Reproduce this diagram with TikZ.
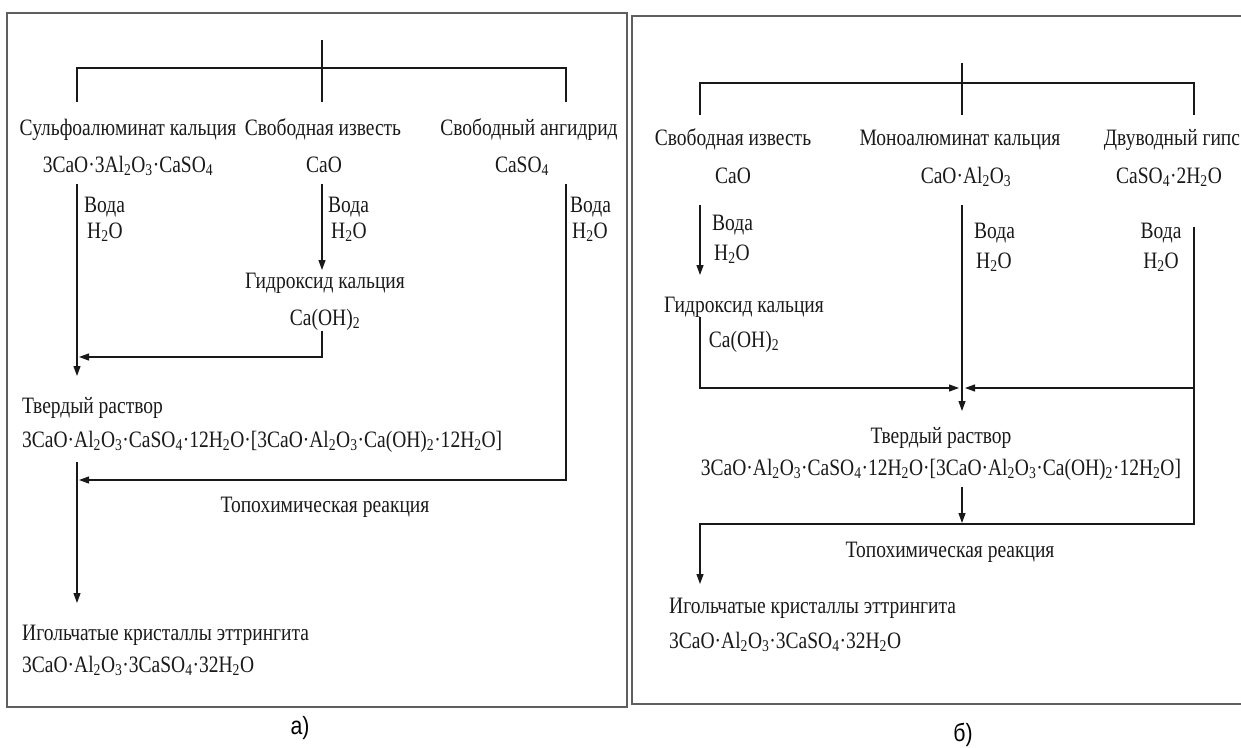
\documentclass[tikz,border=0pt]{standalone}
\usepackage{fontspec}
\setmainfont{Liberation Serif}[FakeStretch=0.83]
\newfontfamily\captfont{Liberation Sans}[FakeStretch=0.85]
\usetikzlibrary{positioning,calc,arrows.meta}
\definecolor{framegray}{RGB}{95,95,95}
\definecolor{linedark}{RGB}{25,25,25}
\newcommand{\chsub}[1]{\textsubscript{#1}}

\begin{document}
\begin{tikzpicture}[
  x=1pt, y=-1pt,
  lbl/.style={inner sep=0pt, font=\fontsize{23.5}{26}\selectfont,
              text height=15pt, text depth=5pt, text=black!90},
  lft/.style={lbl, anchor=west},
  rgt/.style={lbl, anchor=east},
  capt/.style={inner sep=0pt, font=\captfont\fontsize{25}{28}\selectfont},
  ln/.style={line width=1.2pt, linedark},
  arr/.style={ln, -{Triangle[length=10pt,width=7pt]}},
  frm/.style={line width=1.8pt, framegray},
]
\useasboundingbox (0,0) rectangle (1241,747);

% frames
\draw[frm] (7,13) rectangle (627,707);
\draw[frm] (1245,16) -- (632,16) -- (632,704) -- (1245,704);

% ---------- panel a ----------
\coordinate (a-top) at (322,40);
\coordinate (a-bar) at (322,68);
\coordinate (a-dl) at (77,102);
\coordinate (a-dm) at (322,102);
\coordinate (a-dr) at (566,102);
\draw[ln] (a-top) -- (a-dm);
\draw[ln] (a-dl) |- (a-bar) -| (a-dr);

\node[lbl] (a-sulf) at (128,130) {Сульфоалюминат кальция};
\node[lbl] (a-izv)  at (323,130) {Свободная известь};
\node[lbl] (a-ang)  at (529,130) {Свободный ангидрид};
\node[lbl] (a-sulff) at (128,167) {3CaO·3Al\chsub{2}O\chsub{3}·CaSO\chsub{4}};
\node[lbl] (a-izvf)  at (324,167) {CaO};
\node[lbl] (a-angf)  at (522,167) {CaSO\chsub{4}};

% water labels
\node[lft] (a-w1) at (84,207) {Вода};
\node[lft] (a-h1) at (87,233) {H\chsub{2}O};
\node[lft] (a-w2) at (328,207) {Вода};
\node[lft] (a-h2) at (331,233) {H\chsub{2}O};
\node[lft] (a-w3) at (570,207) {Вода};
\node[lft] (a-h3) at (572,233) {H\chsub{2}O};

\node[lbl] (a-hyd)  at (325,283) {Гидроксид кальция};
\node[lbl] (a-hydf) at (325,320) {Ca(OH)\chsub{2}};

\node[lft] (a-sol)  at (22,408) {Твердый раствор};
\node[lft] (a-solf) at (22,442) {3CaO·Al\chsub{2}O\chsub{3}·CaSO\chsub{4}·12H\chsub{2}O·[3CaO·Al\chsub{2}O\chsub{3}·Ca(OH)\chsub{2}·12H\chsub{2}O]};
\node[lbl] (a-topo) at (325,507) {Топохимическая реакция};
\node[lft] (a-ett)  at (22,635) {Игольчатые кристаллы эттрингита};
\node[lft] (a-ettf) at (22,667) {3CaO·Al\chsub{2}O\chsub{3}·3CaSO\chsub{4}·32H\chsub{2}O};

\coordinate (a-s1) at (77,184);
\coordinate (a-e1) at (77,376);
\coordinate (a-s2) at (322,184);
\coordinate (a-e2) at (322,270);
\coordinate (a-s3) at (322,331);
\coordinate (a-e3) at (79,357);
\coordinate (a-s4) at (566,184);
\coordinate (a-e4) at (79,480);
\coordinate (a-s5) at (77,462);
\coordinate (a-e5) at (77,603);
\draw[arr] (a-s1) -- (a-e1);
\draw[arr] (a-s2) -- (a-e2);
\draw[arr] (a-s3) |- (a-e3);
\draw[arr] (a-s4) |- (a-e4);
\draw[arr] (a-s5) -- (a-e5);

\node[capt] (a-cap) at (300,728) {а)};

% ---------- panel b ----------
\coordinate (b-top) at (962,63);
\coordinate (b-bar) at (962,83);
\coordinate (b-dl) at (700,115);
\coordinate (b-dm) at (962,115);
\coordinate (b-dr) at (1194,115);
\draw[ln] (b-top) -- (b-dm);
\draw[ln] (b-dl) |- (b-bar) -| (b-dr);

\node[lbl] (b-izv)  at (733,140) {Свободная известь};
\node[lbl] (b-mono) at (960,140) {Моноалюминат кальция};
\node[lbl] (b-gyp)  at (1172,140) {Двуводный гипс};
\node[lbl] (b-izvf)  at (733,178) {CaO};
\node[lbl] (b-monof) at (966,178) {CaO·Al\chsub{2}O\chsub{3}};
\node[lbl] (b-gypf)  at (1169,178) {CaSO\chsub{4}·2H\chsub{2}O};

\node[lft] (b-w1) at (712,225) {Вода};
\node[lft] (b-h1) at (714,255) {H\chsub{2}O};
\node[lft] (b-w2) at (974,233) {Вода};
\node[lft] (b-h2) at (976,263) {H\chsub{2}O};
\node[lbl] (b-w3) at (1161,233) {Вода};
\node[lbl] (b-h3) at (1161,263) {H\chsub{2}O};

\node[lbl] (b-hyd)  at (744,307) {Гидроксид кальция};
\node[lbl] (b-hydf) at (744,342) {Ca(OH)\chsub{2}};

\node[lbl] (b-sol)  at (941,438) {Твердый раствор};
\node[lbl] (b-solf) at (941,470) {3CaO·Al\chsub{2}O\chsub{3}·CaSO\chsub{4}·12H\chsub{2}O·[3CaO·Al\chsub{2}O\chsub{3}·Ca(OH)\chsub{2}·12H\chsub{2}O]};
\node[lbl] (b-topo) at (950,552) {Топохимическая реакция};
\node[lft] (b-ett)  at (669,608) {Игольчатые кристаллы эттрингита};
\node[lft] (b-ettf) at (669,643) {3CaO·Al\chsub{2}O\chsub{3}·3CaSO\chsub{4}·32H\chsub{2}O};

\coordinate (b-s1) at (700,205);
\coordinate (b-e1) at (700,275);
\coordinate (b-s2) at (700,317);
\coordinate (b-e2) at (959,388);
\coordinate (b-s3) at (962,205);
\coordinate (b-j)  at (962,388);
\coordinate (b-e3) at (962,411);
\coordinate (b-s4) at (1194,227);
\coordinate (b-r)  at (1194,388);
\coordinate (b-e4) at (965,388);
\coordinate (b-s5) at (962,487);
\coordinate (b-e5) at (962,523);
\coordinate (b-l)  at (700,524);
\coordinate (b-e6) at (700,584);
\draw[arr] (b-s1) -- (b-e1);
\draw[arr] (b-s2) |- (b-e2);
\draw[ln]  (b-s3) -- (b-j);
\draw[arr] (b-j) -- (b-e3);
\draw[arr] (b-r) -- (b-e4);
\draw[arr] (b-s4) |- (b-l) -- (b-e6);
\draw[arr] (b-s5) -- (b-e5);

\node[capt] (b-cap) at (963,735) {б)};

\end{tikzpicture}
\end{document}
